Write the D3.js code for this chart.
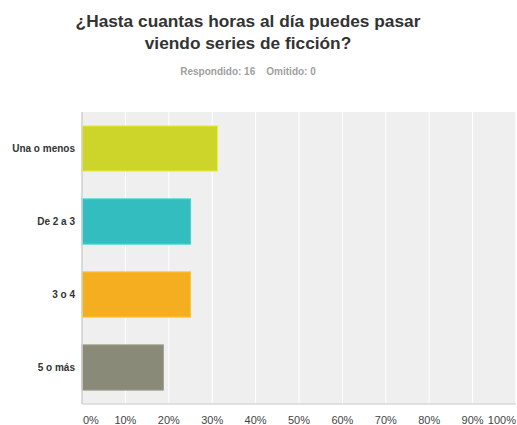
<!DOCTYPE html>
<html>
<head>
  <meta charset="utf-8">
  <script src="https://cdn.jsdelivr.net/npm/d3@7"></script>
  <style>
    * { margin: 0; padding: 0; }
    body { background: #fff; font-family: "Liberation Sans", Arial, sans-serif; }
    .title { font-size: 17.3px; font-weight: bold; fill: #333; }
    .sub { font-size: 10px; font-weight: bold; fill: #a0a0a0; }
    .cat { font-size: 10px; font-weight: bold; fill: #333; }
    .tick-label { font-size: 11px; fill: #444; }
  </style>
</head>
<body>
  <script>
    // data (16 respondents)
    var categories = ["Una o menos", "De 2 a 3", "3 o 4", "5 o más"];
    var values = [31.25, 25, 25, 18.75];
    var colors = ["#cdd52a", "#34bdbf", "#f5ae1f", "#8a8a79"];
    var ticks = [0, 10, 20, 30, 40, 50, 60, 70, 80, 90, 100];

    var w = 517, h = 425;
    var padL = 82, padR = 516, padT = 112, padB = 404;

    var svg = d3.select("body").append("svg")
      .attr("width", w)
      .attr("height", h);

    // title + subtitle
    svg.append("text").attr("class", "title")
      .attr("x", 248).attr("y", 27).attr("text-anchor", "middle")
      .text("¿Hasta cuantas horas al día puedes pasar");
    svg.append("text").attr("class", "title")
      .attr("x", 248).attr("y", 49).attr("text-anchor", "middle")
      .text("viendo series de ficción?");
    svg.append("text").attr("class", "sub")
      .attr("x", 248).attr("y", 75).attr("text-anchor", "middle")
      .attr("xml:space", "preserve")
      .text("Respondido: 16    Omitido: 0");

    var x = d3.scaleLinear().domain([0, 100]).range([padL, padR]);
    var y = d3.scaleBand().domain(categories).range([padT, padB])
      .paddingInner(0.38).paddingOuter(0.19);

    // plot background
    svg.append("rect")
      .attr("x", padL).attr("y", padT)
      .attr("width", padR - padL).attr("height", padB - padT)
      .attr("fill", "#efefef");

    // gridlines
    svg.selectAll(".grid").data(ticks.slice(1)).enter().append("line")
      .attr("class", "grid")
      .attr("x1", function(d) { return x(d); })
      .attr("x2", function(d) { return x(d); })
      .attr("y1", padT).attr("y2", padB)
      .attr("stroke", "#fff").attr("stroke-width", 1);

    // bars
    svg.selectAll(".bar").data(values).enter().append("rect")
      .attr("class", "bar")
      .attr("x", x(0))
      .attr("y", function(d, i) { return y(categories[i]); })
      .attr("width", function(d) { return x(d) - x(0); })
      .attr("height", y.bandwidth())
      .attr("fill", function(d, i) { return colors[i]; })
      .attr("stroke", function(d, i) { return d3.color(colors[i]).brighter(0.4); })
      .attr("stroke-width", 1);

    // axis lines
    svg.append("line")
      .attr("x1", padL).attr("x2", padL).attr("y1", padT).attr("y2", padB)
      .attr("stroke", "#d0d0d0").attr("stroke-width", 1.5);
    svg.append("line")
      .attr("x1", padL).attr("x2", padR).attr("y1", padB).attr("y2", padB)
      .attr("stroke", "#d8d8d8").attr("stroke-width", 1.5);

    // category labels
    svg.selectAll(".cat").data(categories).enter().append("text")
      .attr("class", "cat")
      .attr("x", padL - 7)
      .attr("y", function(d) { return y(d) + y.bandwidth() / 2; })
      .attr("dy", "0.35em")
      .attr("text-anchor", "end")
      .text(function(d) { return d; });

    // tick labels
    svg.selectAll(".tick-label").data(ticks).enter().append("text")
      .attr("class", "tick-label")
      .attr("x", function(d, i) {
        if (i === 0) return x(d) + 1;
        return x(d);
      })
      .attr("y", 424)
      .attr("text-anchor", function(d, i) {
        if (i === 0) return "start";
        if (i === ticks.length - 1) return "end";
        return "middle";
      })
      .text(function(d) { return d + "%"; });
  </script>
</body>
</html>
